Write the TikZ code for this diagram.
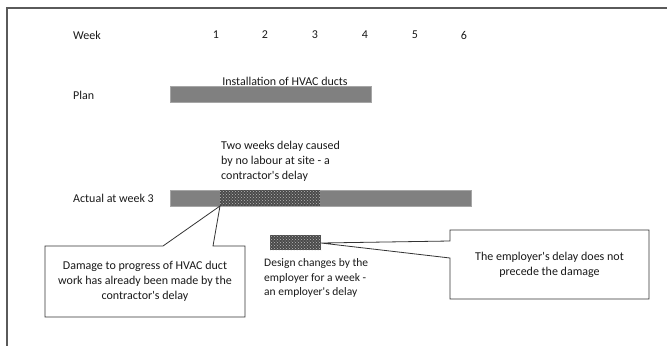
\documentclass[tikz,border=0pt]{standalone}
\usepackage{fontspec}
\setmainfont{Carlito}
\usetikzlibrary{patterns}
\definecolor{bargray}{HTML}{808080}
\definecolor{hatchdark}{HTML}{4A4A4A}
\definecolor{framegray}{HTML}{5A5A5A}
\newcommand{\apos}{\textquotesingle}
\begin{document}
\begin{tikzpicture}[x=1pt,y=-1pt,
  lbl/.style={font=\fontsize{12}{15}\selectfont, inner sep=0pt, text=black!90},
  small/.style={font=\fontsize{11.5}{14.5}\selectfont, inner sep=0pt, text=black!90, align=left},
  bar/.style={fill=bargray, draw=gray!70, line width=0.4pt},
  hatch/.style={fill=hatchdark, postaction={pattern=crosshatch dots, pattern color=gray!55}},
  callout/.style={draw=black!80, fill=white, line width=0.8pt, line join=miter},
  frame/.style={draw=framegray, line width=1.4pt}
]
\useasboundingbox (0,0) rectangle (667,346);
% frame
\coordinate (ftr) at (667,8);
\coordinate (ftl) at (7,8);
\coordinate (fbl) at (7,346);
\draw[frame] (ftr) -- (ftl) -- (fbl);

% week header
\node[lbl, anchor=west] (week) at (73,35) {Week};
\foreach \i/\x in {1/216,2/265,3/315,4/365,5/415,6/464}
  \node[lbl] (w\i) at (\x,35) {\i};

% plan
\node[lbl, anchor=west] (plan) at (73,95) {Plan};
\node[lbl] (install) at (285,81) {Installation of HVAC ducts};
\path[bar] (170,86) rectangle (371,102);

% actual
\node[lbl, anchor=west] (actual) at (73,198) {Actual at week 3};
\path[bar] (170,190) rectangle (471,206);
\path[hatch] (220,190.4) rectangle (320,205.6);
\node[lbl, anchor=north west, align=left] (twoweeks) at (221,141) {Two weeks delay caused\\by no labour at site - a\\contractor\apos s delay};

% left callout
\coordinate (tip1) at (220,206);
\path[callout] (45,246) -- (163,246) -- (tip1) -- (213,246) -- (245,246) -- (245,317) -- (45,317) -- cycle;
\node[lbl, align=center] (damage) at (145,281) {Damage to progress of HVAC duct\\work has already been made by the\\contractor\apos s delay};

% employer's delay bar
\path[hatch] (270,235) rectangle (321,250);
\node[small, anchor=north west] (design) at (264,258.5) {Design changes by the\\employer for a week -\\an employer\apos s delay};

% right callout
\coordinate (tip2) at (321,243);
\path[callout] (450,230) -- (649,230) -- (649,299) -- (450,299) -- (450,258) -- (tip2) -- (450,241) -- cycle;
\node[lbl, align=center] (employer) at (549.5,264.5) {The employer\apos s delay does not\\precede the damage};
\end{tikzpicture}
\end{document}
